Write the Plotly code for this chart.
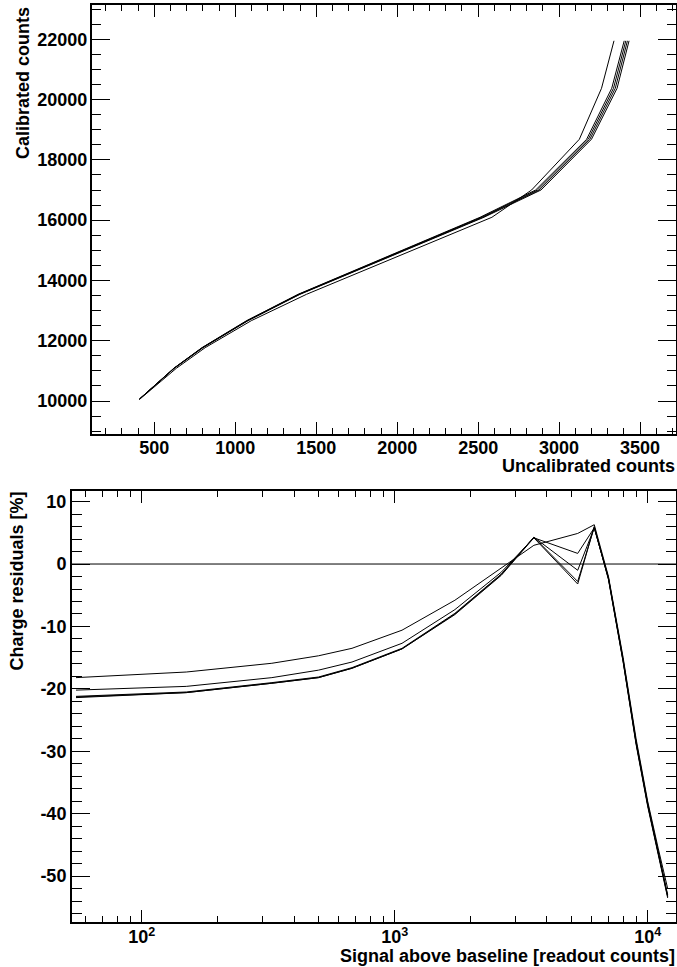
import plotly.graph_objects as go

# top panel: calibration curves (uncalibrated -> calibrated counts)
cal_y = [10060, 11085, 11769, 12665, 13540, 16095, 17000, 18683, 20375, 21950]
adc_a = [410, 636, 814, 1099, 1440, 2585, 2830, 3125, 3262, 3339]
adc_b = [407, 620, 794, 1070, 1388, 2512, 2855, 3170, 3325, 3402]
adc_c = [407, 621, 796, 1073, 1392, 2520, 2866, 3180, 3336, 3412]
adc_d = [408, 622, 798, 1076, 1396, 2528, 2877, 3190, 3347, 3422]
adc_e = [408, 623, 800, 1079, 1400, 2536, 2888, 3200, 3358, 3432]

# bottom panel: charge residuals vs signal
res_x = [55, 150, 327, 500, 678, 1069, 1730, 2640, 3550, 5290, 6150, 7000,
         8000, 9000, 10000, 11000, 12000]
res_a = [-18.2, -17.3, -15.9, -14.7, -13.5, -10.6, -5.8, -0.6, 3.0, 4.9, 6.3,
         -2.0, -15.0, -28.0, -38.0, -45.5, -52.0]
res_b = [-20.2, -19.6, -18.2, -17.0, -15.7, -12.7, -7.3, -1.3, 4.2, 1.7, 5.8,
         -2.2, -15.3, -28.4, -38.3, -46.0, -53.0]
res_c = [-21.2, -20.5, -19.0, -18.1, -16.6, -13.5, -7.9, -1.6, 4.3, -1.0, 5.8,
         -2.3, -15.5, -28.6, -38.5, -46.2, -53.2]
res_d = [-21.3, -20.6, -19.1, -18.2, -16.7, -13.6, -8.0, -1.7, 4.3, -2.8, 5.9,
         -2.4, -15.6, -28.7, -38.6, -46.3, -53.3]
res_e = [-21.4, -20.6, -19.1, -18.2, -16.7, -13.6, -8.1, -1.8, 4.2, -3.2, 6.0,
         -2.5, -15.7, -28.9, -38.8, -46.5, -53.5]

# tick labels
res_ticks = [10, 0, -10, -20, -30, -40, -50]
res_ticktext = ['10', '0', '-10', '-20', '-30', '-40', '-50']
sig_ticks = [100, 1000, 10000]
sig_ticktext = ['10<sup>2</sup>', '10<sup>3</sup>', '10<sup>4</sup>']

W, H = 677, 967
fnt = dict(family='Liberation Sans', size=18, color='black', weight='bold')
line_style = dict(color='black', width=1)

fig = go.Figure()

for xs in [adc_a, adc_b, adc_c, adc_d, adc_e]:
    fig.add_trace(go.Scatter(x=xs, y=cal_y, mode='lines', line=line_style,
                             xaxis='x', yaxis='y', showlegend=False))

for ys in [res_a, res_b, res_c, res_d, res_e]:
    fig.add_trace(go.Scatter(x=res_x, y=ys, mode='lines', line=line_style,
                             xaxis='x2', yaxis='y2', showlegend=False))

def px_x(p):
    return p / W

def px_y(p):
    return 1 - p / H

common = dict(showgrid=False, zeroline=False, showline=True, linecolor='black',
              linewidth=2, mirror='allticks', ticks='inside', tickcolor='black',
              tickwidth=1, tickfont=fnt)

fig.update_layout(
    width=W, height=H,
    margin=dict(l=0, r=0, t=0, b=0),
    paper_bgcolor='white', plot_bgcolor='white',
    xaxis=dict(common, domain=[px_x(92), px_x(676)], anchor='y',
               range=[115, 3722], dtick=500, ticklen=12, tickformat='d',
               ticklabelstandoff=-4,
               minor=dict(dtick=100, ticklen=6, ticks='inside', tickcolor='black')),
    yaxis=dict(common, domain=[px_y(434), px_y(5)], anchor='x',
               range=[8905, 23138], dtick=2000, ticklen=18, tickformat='d',
               ticklabelstandoff=-1,
               minor=dict(dtick=500, ticklen=9, ticks='inside', tickcolor='black')),
    xaxis2=dict(common, domain=[px_x(72), px_x(676)], anchor='y2', type='log',
                range=[1.7245, 4.112], tickvals=sig_ticks, ticktext=sig_ticktext,
                ticklen=12, ticklabelstandoff=-2,
                minor=dict(dtick='D1', ticklen=6, ticks='inside', tickcolor='black')),
    yaxis2=dict(common, domain=[px_y(921.7), px_y(491)], anchor='x2',
                range=[-57.3, 11.7], tickvals=res_ticks, ticktext=res_ticktext,
                ticklen=18, ticklabelstandoff=0,
                minor=dict(dtick=2, ticklen=10, ticks='inside', tickcolor='black')),
    shapes=[dict(type='line', xref='x2 domain', yref='y2', x0=0, x1=1, y0=0, y1=0,
                 line=dict(color='black', width=1))],
    annotations=[
        dict(text='Calibrated counts', textangle=-90, xref='paper', yref='paper',
             x=px_x(23), y=px_y(5), xanchor='center', yanchor='top',
             showarrow=False, font=fnt),
        dict(text='Uncalibrated counts', xref='paper', yref='paper',
             x=px_x(677), y=px_y(466), xanchor='right', yanchor='middle',
             showarrow=False, font=fnt),
        dict(text='Charge residuals [%]', textangle=-90, xref='paper', yref='paper',
             x=px_x(16), y=px_y(490), xanchor='center', yanchor='top',
             showarrow=False, font=fnt),
        dict(text='Signal above baseline [readout counts]', xref='paper', yref='paper',
             x=px_x(677), y=px_y(956), xanchor='right', yanchor='middle',
             showarrow=False, font=fnt),
    ],
)

# drop the default page margin so the 677x967 figure fills the window exactly
fig.write_html('out.html', config={'displayModeBar': False},
               post_script="document.body.style.margin='0';document.body.style.overflow='hidden';")
